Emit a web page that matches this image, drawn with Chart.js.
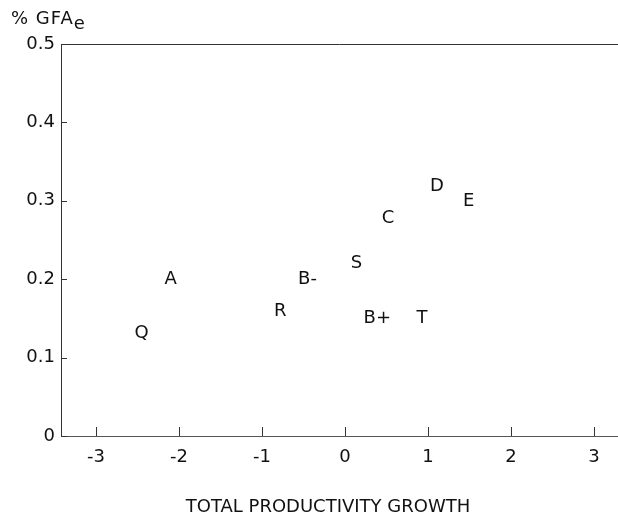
<!DOCTYPE html>
<html>
<head>
<meta charset="utf-8">
<script src="https://cdn.jsdelivr.net/npm/chart.js@4"></script>
<style>
  html, body { margin: 0; padding: 0; background: #fff; }
  #wrap { position: relative; width: 618px; height: 521px; }
</style>
</head>
<body>
<div id="wrap"><canvas id="chart" width="618" height="521"></canvas></div>
<script>
// Data
const labels = ['A', 'Q', 'R', 'B-', 'S', 'C', 'D', 'E', 'B+', 'T'];
const growth = [-2.10, -2.45, -0.78, -0.45, 0.14, 0.52, 1.11, 1.49, 0.39, 0.93];
const gfaShare = [0.200, 0.131, 0.159, 0.200, 0.220, 0.278, 0.318, 0.299, 0.150, 0.150];
const xTicks = [-3, -2, -1, 0, 1, 2, 3];
const yTicks = [0, 0.1, 0.2, 0.3, 0.4, 0.5];

const FONT = "'DejaVu Sans', Verdana, sans-serif";
const INK = '#111';

// Draw each point as its letter label, plus inward tick marks, the top rule and titles
const letterPlugin = {
    id: 'letters',
    afterDatasetsDraw(chart) {
        const ctx = chart.ctx;
        const meta = chart.getDatasetMeta(0);
        const area = chart.chartArea;
        const xs = chart.scales.x;
        const ys = chart.scales.y;

        ctx.save();
        ctx.strokeStyle = '#333';
        ctx.lineWidth = 1;
        // top rule
        ctx.beginPath();
        ctx.moveTo(area.left, area.top + 0.5);
        ctx.lineTo(area.right, area.top + 0.5);
        ctx.stroke();
        // inward ticks
        ctx.beginPath();
        xTicks.forEach(v => {
            const px = Math.round(xs.getPixelForValue(v)) + 0.5;
            ctx.moveTo(px, area.bottom);
            ctx.lineTo(px, area.bottom - 9);
        });
        yTicks.forEach(v => {
            const py = Math.round(ys.getPixelForValue(v)) + 0.5;
            ctx.moveTo(area.left, py);
            ctx.lineTo(area.left + 6, py);
        });
        ctx.stroke();

        ctx.fillStyle = INK;
        ctx.font = '18px ' + FONT;
        ctx.textAlign = 'center';
        ctx.textBaseline = 'middle';
        meta.data.forEach((pt, i) => {
            ctx.fillText(labels[i], pt.x, pt.y);
        });

        // x title
        ctx.font = '18px ' + FONT;
        ctx.fillText('TOTAL PRODUCTIVITY GROWTH', 328, 507);

        // y title with subscript
        ctx.textAlign = 'left';
        ctx.textBaseline = 'alphabetic';
        ctx.font = '18px ' + FONT;
        ctx.letterSpacing = '1px';
        ctx.fillText('% GFA', 11, 24);
        const w = ctx.measureText('% GFA').width;
        ctx.letterSpacing = '0px';
        ctx.fillText('e', 11 + w, 29);
        ctx.restore();
    }
};

new Chart(document.getElementById('chart'), {
    type: 'scatter',
    data: {
        datasets: [{
            data: growth.map((g, i) => ({ x: g, y: gfaShare[i] })),
            pointRadius: 0,
            pointHoverRadius: 0
        }]
    },
    options: {
        responsive: false,
        animation: false,
        events: [],
        layout: { padding: { top: 44, right: 0, left: 0, bottom: 0 } },
        plugins: {
            legend: { display: false },
            tooltip: { enabled: false }
        },
        scales: {
            x: {
                type: 'linear',
                min: -3.42,
                max: 3.29,
                afterBuildTicks: s => { s.ticks = xTicks.map(v => ({ value: v })); },
                afterFit: s => { s.height = 85; },
                grid: { display: false, drawTicks: false },
                border: { display: true, color: '#555', width: 1 },
                ticks: {
                    color: INK,
                    padding: 11,
                    font: { family: FONT, size: 18 },
                    maxRotation: 0,
                    callback: v => String(v)
                }
            },
            y: {
                type: 'linear',
                min: 0,
                max: 0.5,
                afterBuildTicks: s => { s.ticks = yTicks.map(v => ({ value: v })); },
                afterFit: s => { s.width = 61; },
                grid: { display: false, drawTicks: false },
                border: { display: true, color: '#333', width: 1 },
                ticks: {
                    color: INK,
                    padding: 6,
                    font: { family: FONT, size: 18 },
                    callback: v => v === 0 ? '0' : v.toFixed(1)
                }
            }
        }
    },
    plugins: [letterPlugin]
});
</script>
</body>
</html>
